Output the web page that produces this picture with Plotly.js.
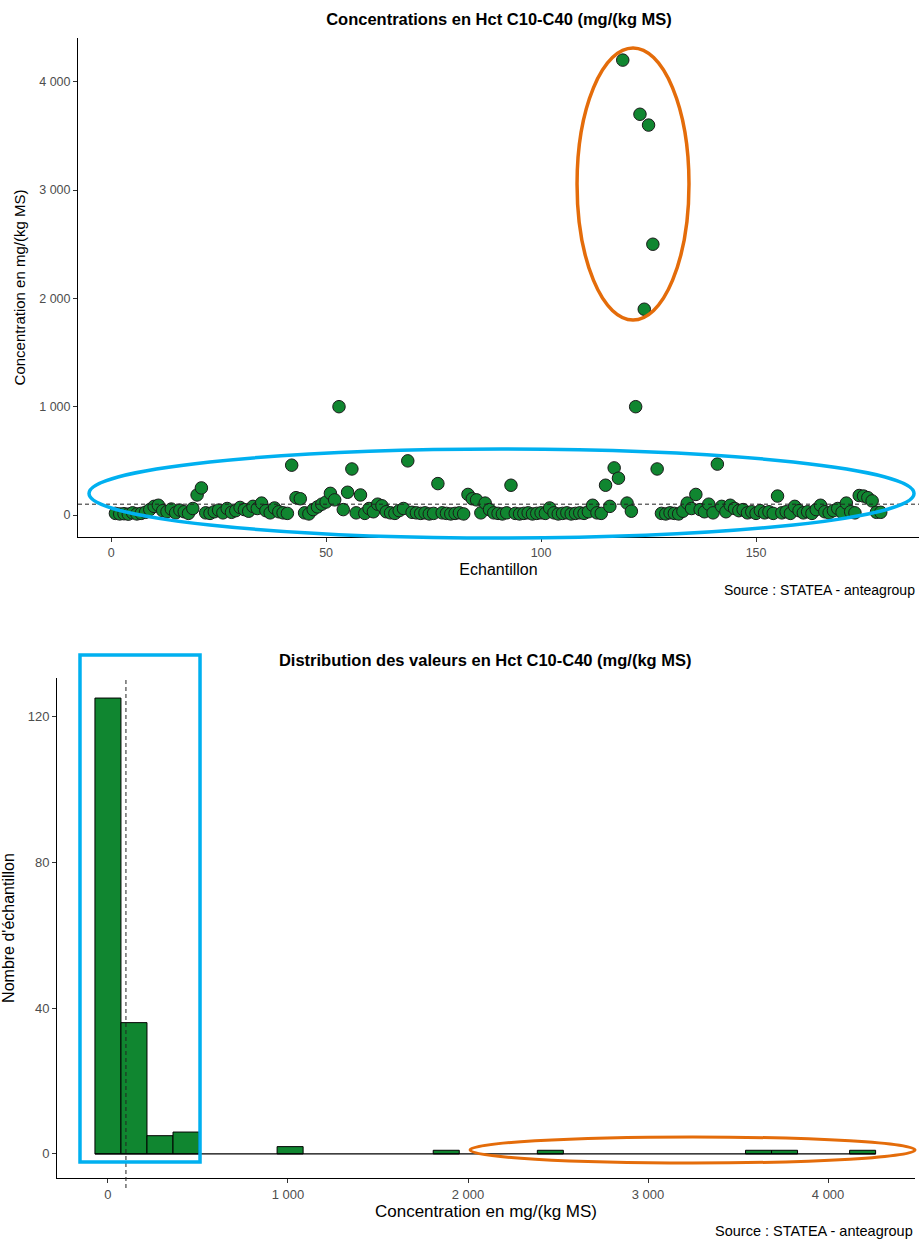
<!DOCTYPE html>
<html><head><meta charset="utf-8">
<script src="https://cdn.plot.ly/plotly-3.0.1.min.js"></script>
<style>body{margin:0;background:#fff}#c1{width:919px;height:615px}#c2{width:919px;height:626px}</style>
</head><body>
<div id="c1"></div><div id="c2"></div>
<script>
// Sample index and concentrations (mg/(kg MS))
const sampleIndex = Array.from({length:179},(_,k)=>k+1);
const concentrations = [
 15,10,12,8,20,10,15,25,50,80, 90,40,30,55,20,45,30,15,60,185,
 250,20,15,30,45,20,60,25,40,70, 50,35,80,60,110,40,20,65,30,20,
 15,460,160,150,20,10,50,75,100,120, 200,140,1000,50,210,425,20,185,15,60,
 30,100,85,30,20,15,40,60,500,25, 20,15,20,10,15,290,20,15,10,15,
 20,10,190,150,140,20,110,50,20,15, 10,20,275,15,10,15,20,10,15,20,
 15,65,20,10,15,20,10,15,20,15, 30,90,20,15,275,80,435,340,4200,110,
 35,1000,3700,1900,3600,2500,425,15,10,20, 15,10,35,110,60,190,50,30,100,20,
 470,80,30,90,60,40,50,20,30,15, 40,20,30,15,175,20,30,15,80,40,
 20,30,15,50,90,30,20,40,60,25, 110,30,20,180,175,160,130,25,25
];
const referenceValue = 100;
const xTicks = [0,50,100,150];
const yTicks1 = [0,1000,2000,3000,4000];
const yTicks2 = [0,40,80,120];
const xTicks2 = [0,1000,2000,3000,4000];
const nBins = 30;

const green = '#108630';
const font = 'Liberation Sans, Arial, sans-serif';

// ---------- Chart 1 : scatter ----------
const trace1 = {
  x: sampleIndex, y: concentrations, type: 'scatter', mode: 'markers',
  marker: {size: 12.5, color: green, line: {color: '#1a1a1a', width: 1}},
  hoverinfo: 'x+y'
};
const layout1 = {
  width: 919, height: 615,
  margin: {l: 78, r: 0, t: 38, b: 78},
  separators: ', ',
  paper_bgcolor: '#fff', plot_bgcolor: '#fff',
  showlegend: false,
  title: {text: '<b>Concentrations en Hct C10-C40 (mg/(kg MS)</b>', font: {family: font, size: 16.5, color: '#000'}, x: 0.543, xanchor: 'center', y: 0.969, yanchor: 'middle'},
  xaxis: {range: [-7.7, 187.9], tickvals: xTicks, ticks: 'outside', ticklen: 4, tickcolor: '#333', showgrid: false, zeroline: false,
          showline: true, linecolor: '#000', linewidth: 1, tickfont: {family: font, size: 12.5, color: '#4d4d4d'},
          title: {text: 'Echantillon', font: {family: font, size: 16, color: '#000'}, standoff: 4}},
  yaxis: {range: [-203, 4404], tickvals: yTicks1, ticks: 'outside', ticklen: 4, tickcolor: '#333', showgrid: false, zeroline: false,
          showline: true, linecolor: '#000', linewidth: 1, tickfont: {family: font, size: 12.5, color: '#4d4d4d'}, separatethousands: true, tickformat: ',d',
          title: {text: 'Concentration en mg/(kg MS)', font: {family: font, size: 15, color: '#000'}, standoff: 9}},
  shapes: [
    {type: 'line', xref: 'paper', yref: 'y', x0: 0, x1: 1, y0: referenceValue, y1: referenceValue, line: {color: '#222', width: 1, dash: '4px,3px'}},
    {type: 'circle', xref: 'paper', yref: 'paper', x0: 0.5934, x1: 0.7265, y0: 0.4349, y1: 0.98, line: {color: '#E46C0A', width: 3.5}},
    {type: 'circle', xref: 'paper', yref: 'paper', x0: 0.0131, x1: 0.9941, y0: -0.002, y1: 0.1764, line: {color: '#00B0F0', width: 3.5}}
  ],
  annotations: [
    {text: 'Source : STATEA - anteagroup', xref: 'paper', yref: 'paper', x: 0.9976, y: -0.106, xanchor: 'right', yanchor: 'middle', showarrow: false, font: {family: font, size: 14, color: '#000'}}
  ]
};
Plotly.newPlot('c1', [trace1], layout1, {displayModeBar: false, staticPlot: true});

// ---------- Chart 2 : histogram ----------
const vmin = Math.min(...concentrations), vmax = Math.max(...concentrations);
const binSize = (vmax - vmin) / (nBins - 1);
const binStart = -binSize / 2;
const lastBin = Math.floor((vmax - binStart) / binSize);
const binEnd = binStart + (lastBin + 1) * binSize;

const trace2 = {
  x: concentrations, type: 'histogram',
  xbins: {start: binStart, end: binEnd, size: binSize},
  marker: {color: green, line: {color: '#000', width: 1}},
  hoverinfo: 'x+y'
};
const baseLine = {
  x: [binStart, binEnd], y: [0, 0], type: 'scatter', mode: 'lines',
  line: {color: '#000', width: 1.2}, hoverinfo: 'skip'
};
const layout2 = {
  width: 919, height: 626,
  margin: {l: 57, r: 4, t: 63, b: 63},
  separators: ', ',
  bargap: 0,
  paper_bgcolor: '#fff', plot_bgcolor: '#fff',
  showlegend: false,
  title: {text: '<b>Distribution des valeurs en Hct C10-C40 (mg/(kg MS)</b>', font: {family: font, size: 16.5, color: '#000'}, x: 0.528, xanchor: 'center', y: 0.928, yanchor: 'middle'},
  xaxis: {range: [-283, 4483], tickvals: xTicks2, ticks: 'outside', ticklen: 4, tickcolor: '#333', showgrid: false, zeroline: false,
          showline: true, linecolor: '#000', linewidth: 1, tickfont: {family: font, size: 13, color: '#4d4d4d'}, separatethousands: true, tickformat: ',d',
          title: {text: 'Concentration en mg/(kg MS)', font: {family: font, size: 17, color: '#000'}, standoff: 4}},
  yaxis: {range: [-6.6, 130.5], tickvals: yTicks2, ticks: 'outside', ticklen: 4, tickcolor: '#333', showgrid: false, zeroline: false,
          showline: true, linecolor: '#000', linewidth: 1, tickfont: {family: font, size: 13, color: '#4d4d4d'},
          title: {text: "Nombre d'échantillon", font: {family: font, size: 16, color: '#000'}, standoff: 10}},
  shapes: [
    {type: 'line', xref: 'x', yref: 'paper', x0: referenceValue, x1: referenceValue, y0: -0.02, y1: 1, line: {color: '#222', width: 1, dash: '4px,3px'}},
    {type: 'rect', xref: 'paper', yref: 'paper', x0: 0.0268, x1: 0.1667, y0: 0.032, y1: 1.046, line: {color: '#00B0F0', width: 3.5}},
    {type: 'circle', xref: 'paper', yref: 'paper', x0: 0.4814, x1: 1.0, y0: 0.03, y1: 0.082, line: {color: '#E46C0A', width: 3}}
  ],
  annotations: [
    {text: 'Source : STATEA - anteagroup', xref: 'paper', yref: 'paper', x: 1.0, y: -0.106, xanchor: 'right', yanchor: 'middle', showarrow: false, font: {family: font, size: 14.5, color: '#000'}}
  ]
};
Plotly.newPlot('c2', [trace2, baseLine], layout2, {displayModeBar: false, staticPlot: true});
</script>
</body></html>
